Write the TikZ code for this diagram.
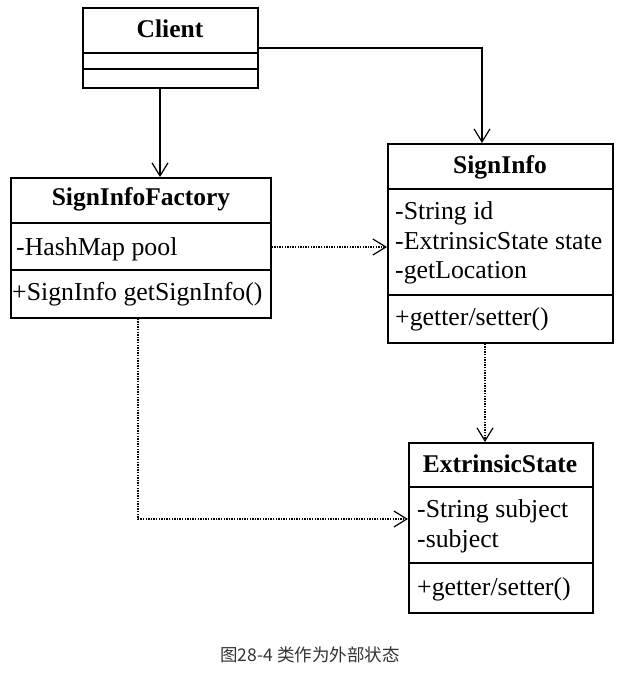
\documentclass[tikz,border=0pt]{standalone}
\usepackage{fontspec}
\setmainfont{Liberation Serif}
\newfontfamily\cjk{Noto Sans CJK SC}
\usetikzlibrary{arrows.meta}
\begin{document}
\begin{tikzpicture}[x=1pt,y=1pt,
  umlbox/.style={draw, line width=1.6pt, inner sep=0pt, anchor=north west},
  sep/.style={line width=1.4pt},
  title/.style={font=\fontsize{25.5}{30}\selectfont\bfseries, inner sep=0pt, anchor=base},
  member/.style={font=\fontsize{25.8}{30}\selectfont, inner sep=0pt, anchor=base west},
  assoc/.style={line width=1.2pt, -{Straight Barb[length=13pt,width=16pt]}},
  dep/.style={assoc, dash pattern=on 1.4pt off 1.2pt},
  caption/.style={font=\cjk\fontsize{17.5}{20}\selectfont, text=black!80, inner sep=0pt}
]
\useasboundingbox (0,0) rectangle (624,-673);

% Client
\node[umlbox, minimum width=175pt, minimum height=80pt] (client) at (82,-7) {};
\draw[sep] (82,-53) -- (257,-53);
\draw[sep] (82,-69) -- (257,-69);
\node[title] (clientT) at (170,-37) {Client};

% SignInfoFactory
\node[umlbox, minimum width=260pt, minimum height=140pt] (factory) at (10,-177) {};
\draw[sep] (10,-223) -- (270,-223);
\draw[sep] (10,-270) -- (270,-270);
\node[title] (factoryT) at (141,-205) {SignInfoFactory};
\node[member] (factoryA) at (16,-255) {-HashMap pool};
\node[member] (factoryM) at (12,-300) {+SignInfo getSignInfo()};

% SignInfo
\node[umlbox, minimum width=225pt, minimum height=199pt] (signinfo) at (387,-143) {};
\draw[sep] (387,-189) -- (612,-189);
\draw[sep] (387,-295) -- (612,-295);
\node[title] (signinfoT) at (500,-173) {SignInfo};
\node[member] (signinfoA1) at (395,-219) {-String id};
\node[member] (signinfoA2) at (395,-249) {-ExtrinsicState state};
\node[member] (signinfoA3) at (395,-278) {-getLocation};
\node[member] (signinfoM) at (395,-325) {+getter/setter()};

% ExtrinsicState
\node[umlbox, minimum width=184pt, minimum height=170pt] (extr) at (408,-442) {};
\draw[sep] (408,-487) -- (592,-487);
\draw[sep] (408,-563) -- (592,-563);
\node[title] (extrT) at (500,-472) {ExtrinsicState};
\node[member] (extrA1) at (417,-517) {-String subject};
\node[member] (extrA2) at (417,-547) {-subject};
\node[member] (extrM) at (417,-595) {+getter/setter()};

% connectors
\coordinate (c1) at (482,-48);
\coordinate (c2) at (138,-519);
\draw[assoc] (client.south -| 160,0) -- (factory.north -| 160,0);
\draw[assoc] (client.east |- c1) -- (c1) -- (signinfo.north -| c1);
\draw[dep] (factory.east |- 0,-247) -- (signinfo.west |- 0,-247);
\draw[dep] (signinfo.south -| 485,0) -- (extr.north -| 485,0);
\draw[dep] (factory.south -| c2) -- (c2) -- (extr.west |- c2);

% caption
\node[caption] (cap) at (310,-655) {图28-4 类作为外部状态};
\end{tikzpicture}
\end{document}
